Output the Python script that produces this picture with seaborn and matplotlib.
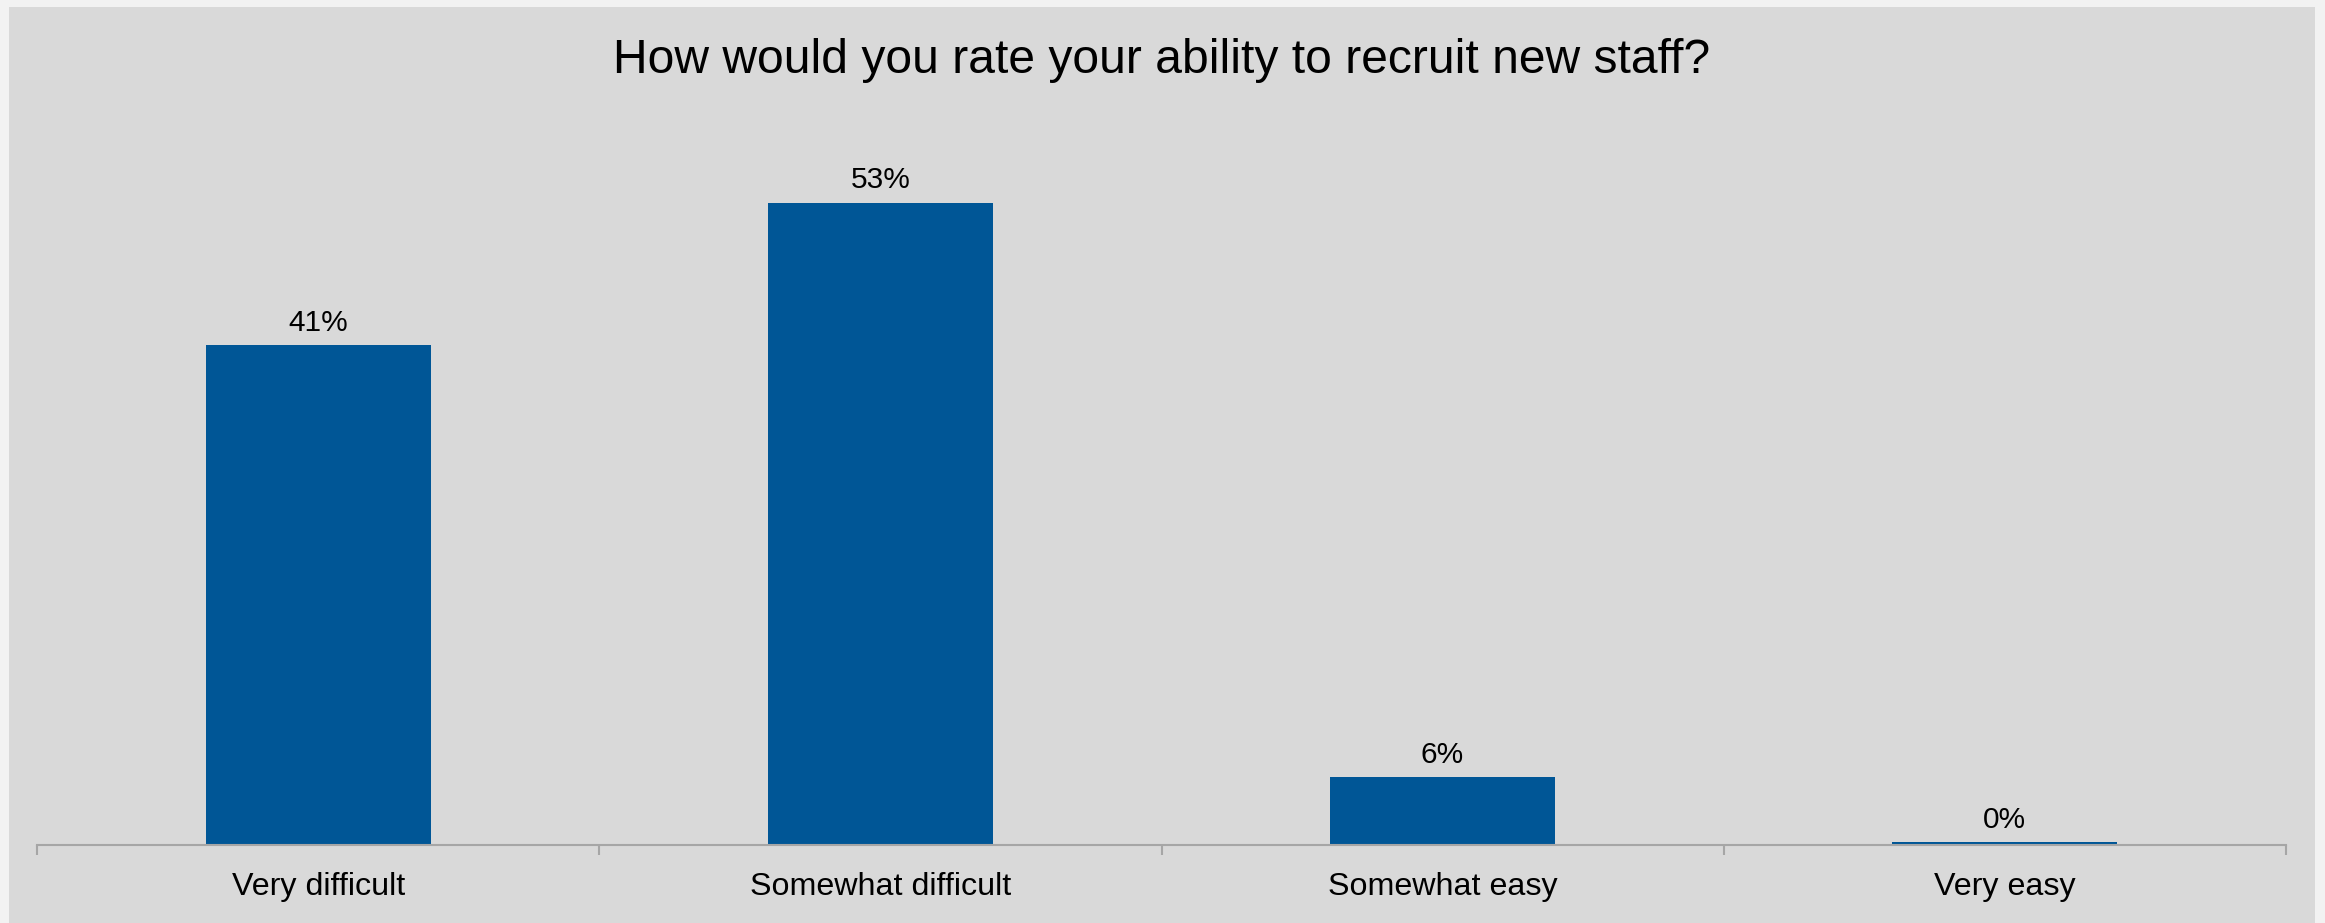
import matplotlib
matplotlib.use("Agg")
import matplotlib.pyplot as plt
from matplotlib.patches import Rectangle
import seaborn as sns
import pandas as pd

categories = ["Very difficult", "Somewhat difficult", "Somewhat easy", "Very easy"]
values = [41.1, 52.8, 5.6, 0.25]
value_labels = ["41%", "53%", "6%", "0%"]
title = "How would you rate your ability to recruit new staff?"

sns.set_theme(style="white")
plt.rcParams["font.family"] = ["Liberation Sans", "DejaVu Sans"]

W, H = 2325, 923
fig = plt.figure(figsize=(W / 100, H / 100), dpi=100, facecolor="#f2f2f2")
fig.patches.append(Rectangle((9 / W, 0), (2315 - 9) / W, (H - 7) / H,
                             transform=fig.transFigure, facecolor="#d9d9d9",
                             edgecolor="none", zorder=-10))

ax_left, ax_right = 37 / W, 2286 / W
ax_bottom, ax_top = (H - 845) / H, (H - 115) / H
ax = fig.add_axes([ax_left, ax_bottom, ax_right - ax_left, ax_top - ax_bottom])
ax.set_facecolor("none")
ax.set_zorder(1)

df = pd.DataFrame({"category": categories, "value": values})
sns.barplot(data=df, x="category", y="value", color="#005696", saturation=1,
            width=0.4, ax=ax, zorder=2, linewidth=0, edgecolor="none")

ax.set_xlim(-0.5, 3.5)
ax.set_ylim(0, 60)
ax.set_xlabel("")
ax.set_ylabel("")
ax.set_yticks([])
for s in ["left", "right", "top"]:
    ax.spines[s].set_visible(False)
ax.spines["bottom"].set_color("#a6a6a6")
ax.spines["bottom"].set_linewidth(1.5)
ax.spines["bottom"].set_zorder(3)

ax.set_xticks(range(len(categories)))
ax.set_xticklabels(categories, fontsize=23.2, color="black")
ax.tick_params(axis="x", which="major", length=0, pad=19.5)
ax.set_xticks([i - 0.5 for i in range(len(categories) + 1)], minor=True)
ax.tick_params(axis="x", which="minor", length=7.2, width=1.5, color="#a6a6a6",
               direction="out", bottom=True)

ax.bar_label(ax.containers[0], labels=value_labels, padding=6, fontsize=21.5,
             color="black")

fig.text(1162 / W, 1 - 73 / H, title, ha="center", va="baseline",
         fontsize=34.6, color="black")

fig.savefig("out.png", dpi=100, facecolor=fig.get_facecolor())
